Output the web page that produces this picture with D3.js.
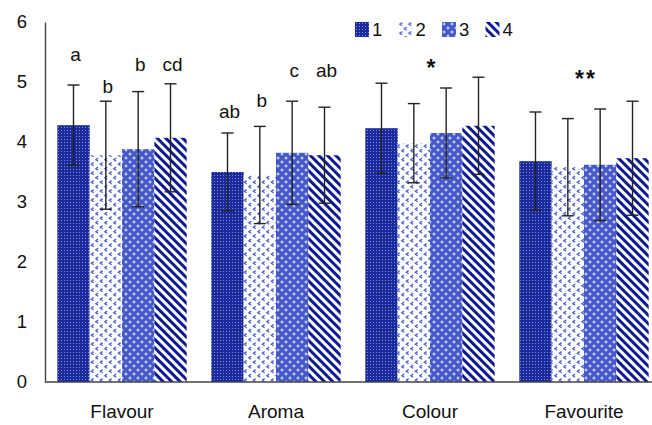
<!DOCTYPE html>
<html>
<head>
<meta charset="utf-8">
<script src="https://cdn.jsdelivr.net/npm/d3@7"></script>
<style>
  body { margin: 0; background: #fff; }
  svg { display: block; font-family: "Liberation Sans", Arial, sans-serif; }
</style>
</head>
<body>
<div id="container"><svg></svg></div>
<script>
let width = 652, height = 425;

// data
let categories = ["Flavour", "Aroma", "Colour", "Favourite"];
let series = ["1", "2", "3", "4"];
let means = [
    [4.28, 3.78, 3.88, 4.07],
    [3.50, 3.45, 3.82, 3.78],
    [4.23, 3.98, 4.15, 4.27],
    [3.68, 3.58, 3.62, 3.73]
];
let sds = [
    [0.67, 0.90, 0.96, 0.90],
    [0.65, 0.81, 0.86, 0.80],
    [0.75, 0.66, 0.75, 0.81],
    [0.82, 0.81, 0.93, 0.95]
];
// significance letters above bars (Flavour, Aroma) and their heights
let letters = [["a", "b", "b", "cd"], ["ab", "b", "c", "ab"]];
let letterHeights = [[5.35, 4.82, 5.18, 5.18], [4.40, 4.58, 5.08, 5.08]];
// stars above whole groups
let starCats = ["Colour", "Favourite"];
let stars = ["*", "**"];
let starHeights = [5.1, 4.92];
let yTicks = [0, 1, 2, 3, 4, 5, 6];

let x0 = 45, yBottom = 382, yTop = 22;

function make_patterns(defs) {
    let navy = "#1c2b9c", mid = "#4b5ecf";

    let p1 = defs.append("pattern").attr("id", "pat1")
        .attr("patternUnits", "userSpaceOnUse").attr("width", 3).attr("height", 3);
    p1.append("rect").attr("width", 3).attr("height", 3).attr("fill", navy);
    p1.append("rect").attr("x", 1).attr("y", 1).attr("width", 1).attr("height", 1).attr("fill", "#7f8ad8");

    let p2 = defs.append("pattern").attr("id", "pat2")
        .attr("patternUnits", "userSpaceOnUse").attr("width", 9).attr("height", 9);
    p2.append("rect").attr("width", 9).attr("height", 9).attr("fill", "#fff");
    p2.append("path").attr("d", "M3.6,0.6 L1.4,2.2 L3.6,3.8 M8.1,5.1 L5.9,6.7 L8.1,8.3")
        .attr("fill", "none").attr("stroke", mid).attr("stroke-width", 1.4);

    let p3 = defs.append("pattern").attr("id", "pat3")
        .attr("patternUnits", "userSpaceOnUse").attr("width", 8).attr("height", 8);
    p3.append("rect").attr("width", 8).attr("height", 8).attr("fill", "#4558c8");
    p3.append("path").attr("d", "M2,0.5 V3.5 M0.5,2 H3.5 M6,4.5 V7.5 M4.5,6 H7.5")
        .attr("stroke", "#e6e9fb").attr("stroke-width", 1);

    let p4 = defs.append("pattern").attr("id", "pat4")
        .attr("patternUnits", "userSpaceOnUse").attr("width", 6).attr("height", 6)
        .attr("patternTransform", "rotate(-45)");
    p4.append("rect").attr("width", 6).attr("height", 6).attr("fill", "#fff");
    p4.append("rect").attr("width", 3).attr("height", 6).attr("fill", "#0d1a8f");
}

function draw_chart() {
    let svg = d3.select("#container").select("svg")
        .attr("width", width).attr("height", height);

    make_patterns(svg.append("defs"));

    let y = d3.scaleLinear().domain([0, 6]).range([yBottom, yTop]);
    let x = d3.scaleBand().domain(categories).range([x0, 661])
        .paddingInner(0.16).paddingOuter(0.08);
    let xs = d3.scaleBand().domain(series).range([0, x.bandwidth()]);

    // y axis (labels only + line)
    let yAxis = svg.append("g").attr("transform", `translate(${x0},0)`)
        .call(d3.axisLeft(y).tickValues(yTicks).tickSize(0).tickPadding(18).tickFormat(d3.format("d")));
    yAxis.select(".domain").attr("stroke", "#444").attr("stroke-width", 1.4);
    yAxis.selectAll("text").attr("font-size", 18.5).attr("fill", "#111")
        .attr("font-family", "Liberation Sans, Arial, sans-serif");

    // bars
    let rows = [];
    categories.forEach((c, i) => series.forEach((s, j) => {
        rows.push({cat: c, s: s, j: j, v: means[i][j], sd: sds[i][j]});
    }));

    svg.append("g").selectAll("rect").data(rows).join("rect")
        .attr("x", d => x(d.cat) + xs(d.s))
        .attr("y", d => y(d.v))
        .attr("width", xs.bandwidth())
        .attr("height", d => y(0) - y(d.v))
        .attr("fill", d => `url(#pat${d.j + 1})`);

    // error bars
    let eb = svg.append("g").attr("stroke", "#222").attr("stroke-width", 1.4);
    rows.forEach(d => {
        let cx = x(d.cat) + xs(d.s) + xs.bandwidth() / 2;
        let top = y(d.v + d.sd), bot = y(d.v - d.sd);
        eb.append("line").attr("x1", cx).attr("x2", cx).attr("y1", top).attr("y2", bot);
        eb.append("line").attr("x1", cx - 6).attr("x2", cx + 6).attr("y1", top).attr("y2", top);
        eb.append("line").attr("x1", cx - 6).attr("x2", cx + 6).attr("y1", bot).attr("y2", bot);
    });

    // x axis
    svg.append("line").attr("x1", x0).attr("x2", width).attr("y1", y(0)).attr("y2", y(0))
        .attr("stroke", "#444").attr("stroke-width", 1.6);
    svg.append("g").selectAll("text").data(categories).join("text")
        .attr("x", d => x(d) + x.bandwidth() / 2)
        .attr("y", 418)
        .attr("text-anchor", "middle")
        .attr("font-size", 19).attr("fill", "#111")
        .text(d => d);

    // letters
    letters.forEach((arr, i) => arr.forEach((t, j) => {
        svg.append("text")
            .attr("x", x(categories[i]) + xs(series[j]) + xs.bandwidth() / 2 + 2)
            .attr("y", y(letterHeights[i][j]))
            .attr("text-anchor", "middle").attr("font-size", 19).attr("fill", "#111")
            .text(t);
    }));
    stars.forEach((t, i) => {
        svg.append("text")
            .attr("x", x(starCats[i]) + x.bandwidth() / 2 + 2)
            .attr("y", y(starHeights[i]))
            .attr("text-anchor", "middle").attr("font-size", 23).attr("font-weight", "bold")
            .attr("letter-spacing", 2).attr("fill", "#111")
            .text(t);
    });

    // legend
    let lg = svg.append("g").attr("transform", "translate(355,22)");
    series.forEach((s, j) => {
        let g = lg.append("g").attr("transform", `translate(${j * 43.5},0)`);
        g.append("rect").attr("width", 14).attr("height", 15).attr("fill", `url(#pat${j + 1})`);
        g.append("text").attr("x", 17).attr("y", 14).attr("font-size", 18.5).attr("fill", "#111").text(s);
    });
}

draw_chart();
</script>
</body>
</html>
